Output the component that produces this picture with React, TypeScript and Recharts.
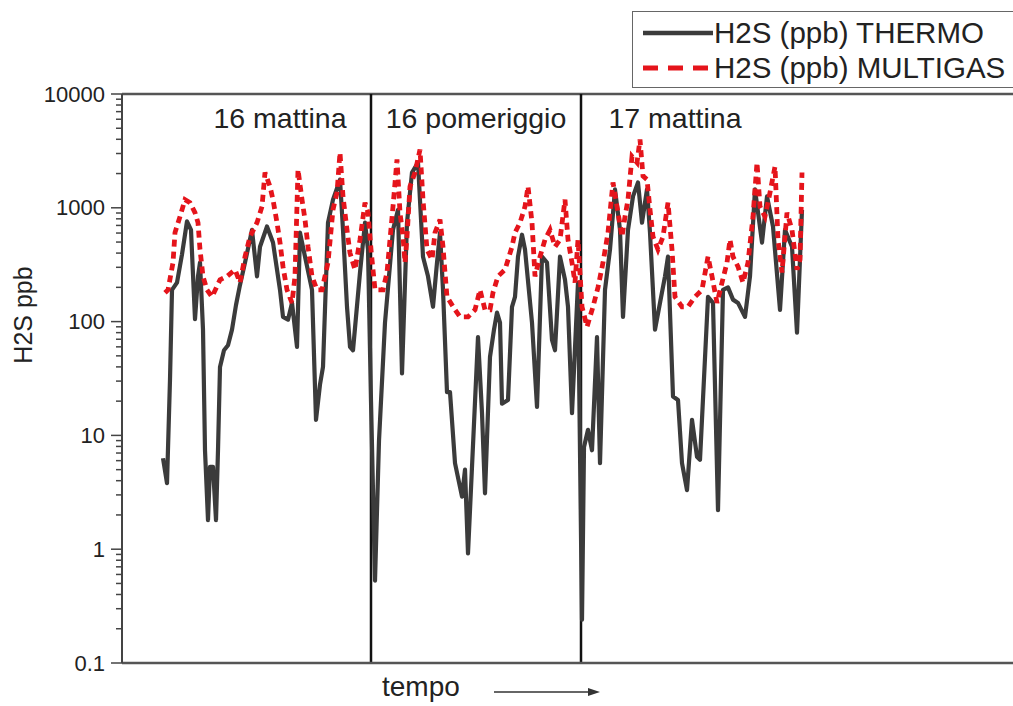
import React from 'react';
import { LineChart, Line, XAxis, YAxis, ReferenceLine } from 'recharts';

// time axis is in arbitrary sample units; the three sessions are split at sessionBreaks
const thermoTime = [
  41, 45, 48, 50, 55, 60, 65, 69, 73, 76,
  78, 81, 83, 86, 88, 91, 94, 96, 98, 102,
  106, 110, 114, 118, 123, 130, 135, 138, 145, 151,
  158, 161, 166, 170, 175, 178, 183, 190, 194, 198,
  201, 206, 211, 218, 221, 225, 228, 231, 238, 243,
  246, 249, 253, 257, 263, 271, 276, 280, 285, 290,
  296, 301, 306, 311, 315, 318, 321, 325, 328, 333,
  340, 343, 346, 356, 360, 363, 368, 372, 375, 378,
  380, 386, 390, 393, 396, 400, 403, 410, 415, 420,
  425, 430, 433, 438, 443, 446, 450, 456, 460, 462,
  466, 470, 475, 478, 483, 488, 493, 498, 501, 506,
  511, 516, 520, 525, 528, 533, 538, 543, 546, 551,
  556, 560, 565, 570, 575, 578, 586, 591, 596, 601,
  606, 611, 616, 623, 628, 633, 640, 645, 651, 658,
  663, 670, 675, 680,
];
const thermoPpb = [
  6.3, 3.8, 31, 190, 220, 390, 760, 640, 105, 250,
  330, 85, 7.4, 1.8, 5.3, 5.3, 1.8, 7.4, 40, 56,
  62, 85, 140, 210, 330, 640, 250, 455, 685, 495,
  190, 110, 104, 146, 60, 605, 372, 190, 13.7, 28,
  40, 740, 1180, 1770, 640, 135, 60, 56, 270, 740,
  430, 20, 0.53, 9, 98, 640, 960, 35, 740, 2040,
  2500, 372, 250, 135, 330, 605, 190, 24, 24, 5.7,
  2.9, 5.0, 0.92, 73, 15.7, 3.1, 49, 85, 120, 98,
  19, 20.5, 135, 165, 372, 580, 430, 98, 17.8, 372,
  330, 69, 56, 372, 233, 135, 15.7, 220, 0.24, 7.9,
  11.2, 7.4, 73, 5.7, 190, 430, 1450, 640, 110, 640,
  1260, 1670, 740, 1450, 605, 85, 146, 250, 372, 22,
  20.5, 5.7, 3.3, 13.7, 6.5, 6.1, 165, 146, 2.2, 190,
  200, 156, 146, 110, 250, 1450, 495, 1260, 685, 127,
  640, 455, 80, 960,
];

const multigasTime = [
  43, 46, 51, 53, 58, 63, 68, 73, 76, 78,
  81, 85, 90, 98, 105, 113, 118, 123, 128, 135,
  140, 143, 148, 151, 155, 158, 161, 165, 170, 173,
  176, 180, 183, 186, 190, 195, 200, 206, 211, 215,
  218, 221, 225, 228, 233, 238, 243, 246, 249, 253,
  261, 265, 268, 271, 275, 278, 281, 283, 285, 288,
  293, 298, 301, 305, 310, 313, 318, 321, 323, 325,
  333, 338, 346, 353, 358, 363, 368, 371, 376, 383,
  390, 393, 398, 403, 406, 410, 413, 418, 423, 428,
  433, 438, 443, 446, 450, 453, 456, 460, 465, 471,
  476, 481, 486, 491, 495, 500, 503, 506, 510, 515,
  518, 521, 525, 528, 531, 536, 541, 546, 550, 553,
  560, 566, 573, 580, 586, 590, 595, 600, 605, 608,
  611, 616, 621, 626, 631, 635, 638, 643, 648, 653,
  656, 660, 665, 670, 675, 678, 680,
];
const multigasPpb = [
  179, 190, 330, 605, 837, 1180, 1110, 907, 740, 430,
  250, 190, 165, 233, 250, 286, 220, 372, 557, 740,
  1025, 2040, 1540, 1180, 740, 495, 304, 190, 146, 250,
  2170, 1180, 787, 455, 250, 190, 190, 330, 964, 1360,
  3060, 1260, 640, 400, 286, 525, 1110, 907, 430, 190,
  190, 270, 525, 1025, 2660, 907, 557, 330, 557, 1540,
  2040, 3250, 1180, 430, 350, 605, 787, 455, 270, 165,
  127, 110, 110, 127, 190, 127, 127, 180, 250, 286,
  455, 605, 740, 1025, 1540, 740, 250, 372, 525, 640,
  455, 525, 1180, 525, 330, 220, 525, 135, 90, 135,
  200, 330, 605, 1670, 1025, 557, 837, 1180, 2820, 2500,
  3980, 1900, 1770, 964, 557, 430, 557, 1110, 430, 165,
  135, 135, 165, 190, 372, 250, 146, 220, 330, 525,
  372, 304, 220, 330, 837, 2500, 1025, 837, 1360, 2300,
  525, 270, 907, 640, 286, 350, 2040,
];

const sessionBreaks = [249, 459];
const sessionLabels = ['16 mattina', '16 pomeriggio', '17 mattina'];
const decadeTicks = [0.1, 1, 10, 100, 1000, 10000];
const decadeLabels = ['0.1', '1', '10', '100', '1000', '10000'];
const minorTicks = decadeTicks
  .slice(0, -1)
  .flatMap((d) => [2, 3, 4, 5, 6, 7, 8, 9].map((m) => m * d));

const thermoData = thermoTime.map((t, i) => ({ t, v: thermoPpb[i] }));
const multigasData = multigasTime.map((t, i) => ({ t, v: multigasPpb[i] }));

const FONT = '"Liberation Sans", Arial, sans-serif';
const BLACK = '#3b3b3b';
const RED = '#e5141b';

const LogTick = (props: any) => {
  const { x, y, payload } = props;
  const v = payload.value;
  const idx = decadeTicks.findIndex((d) => Math.abs(d - v) < d * 1e-6);
  const major = idx >= 0;
  return (
    <g>
      <line x1={x - (major ? 11 : 6)} x2={x} y1={y} y2={y} stroke="#444" strokeWidth={1.5} />
      {major && (
        <text
          x={x - 17}
          y={y}
          textAnchor="end"
          dominantBaseline="central"
          fontFamily={FONT}
          fontSize={22}
          fill="#222"
        >
          {decadeLabels[idx]}
        </text>
      )}
    </g>
  );
};

const labelStyle: React.CSSProperties = {
  position: 'absolute',
  fontFamily: FONT,
  color: '#222',
  whiteSpace: 'nowrap',
  lineHeight: 1,
};

export default function App() {
  return (
    <div
      style={{
        position: 'absolute',
        left: 0,
        top: 0,
        width: 1013,
        height: 706,
        overflow: 'hidden',
        background: '#fff',
      }}
    >
      <LineChart
        width={1013}
        height={706}
        margin={{ top: 94, right: 0, bottom: 0, left: 0 }}
      >
        <XAxis
          type="number"
          dataKey="t"
          domain={[0, 891]}
          tick={false}
          tickLine={false}
          height={43}
          axisLine={{ stroke: '#555', strokeWidth: 2.5 }}
        />
        <YAxis
          type="number"
          scale="log"
          domain={[0.1, 10000]}
          ticks={[...decadeTicks, ...minorTicks]}
          interval={0}
          allowDataOverflow
          width={122}
          tickSize={0}
          tickMargin={0}
          tick={<LogTick />}
          axisLine={{ stroke: '#444', strokeWidth: 2 }}
        />
        <ReferenceLine y={10000} stroke="#555" strokeWidth={2.5} />
        {sessionBreaks.map((b) => (
          <ReferenceLine key={b} x={b} stroke="#111" strokeWidth={2.5} />
        ))}
        <Line
          data={thermoData}
          dataKey="v"
          type="linear"
          stroke={BLACK}
          strokeWidth={4.2}
          strokeLinejoin="round"
          dot={false}
          isAnimationActive={false}
        />
        <Line
          data={multigasData}
          dataKey="v"
          type="linear"
          stroke={RED}
          strokeWidth={4.8}
          strokeDasharray="7 5"
          dot={false}
          isAnimationActive={false}
        />
      </LineChart>

      {/* session labels */}
      {sessionLabels.map((s, i) => (
        <div
          key={s}
          style={{
            ...labelStyle,
            fontSize: 28.5,
            left: [280, 476, 675][i],
            top: 104,
            transform: 'translateX(-50%)',
          }}
        >
          {s}
        </div>
      ))}

      {/* axis titles */}
      <div
        style={{
          ...labelStyle,
          fontSize: 25,
          left: 23,
          top: 315,
          transform: 'translate(-50%, -50%) rotate(-90deg)',
        }}
      >
        H2S ppb
      </div>
      <div style={{ ...labelStyle, fontSize: 28, left: 382, top: 673 }}>tempo</div>
      <svg style={{ position: 'absolute', left: 0, top: 0 }} width={1013} height={706}>
        <line x1={494} x2={590} y1={692} y2={692} stroke="#333" strokeWidth={1.5} />
        <polygon points="600,692 588,688 588,696" fill="#333" />
      </svg>

      {/* legend */}
      <div
        style={{
          position: 'absolute',
          left: 632,
          top: 11,
          width: 400,
          height: 75,
          border: '1.5px solid #666',
          background: '#fff',
        }}
      >
        <svg style={{ position: 'absolute', left: 0, top: 0 }} width={90} height={75}>
          <line x1={10} x2={80} y1={21} y2={21} stroke={BLACK} strokeWidth={4.5} />
          <line
            x1={10}
            x2={76}
            y1={56}
            y2={56}
            stroke={RED}
            strokeWidth={5}
            strokeDasharray="15 10"
          />
        </svg>
        <div style={{ ...labelStyle, fontSize: 29.5, left: 81, top: 6 }}>H2S (ppb) THERMO</div>
        <div style={{ ...labelStyle, fontSize: 29.5, left: 81, top: 41 }}>H2S (ppb) MULTIGAS</div>
      </div>
    </div>
  );
}
